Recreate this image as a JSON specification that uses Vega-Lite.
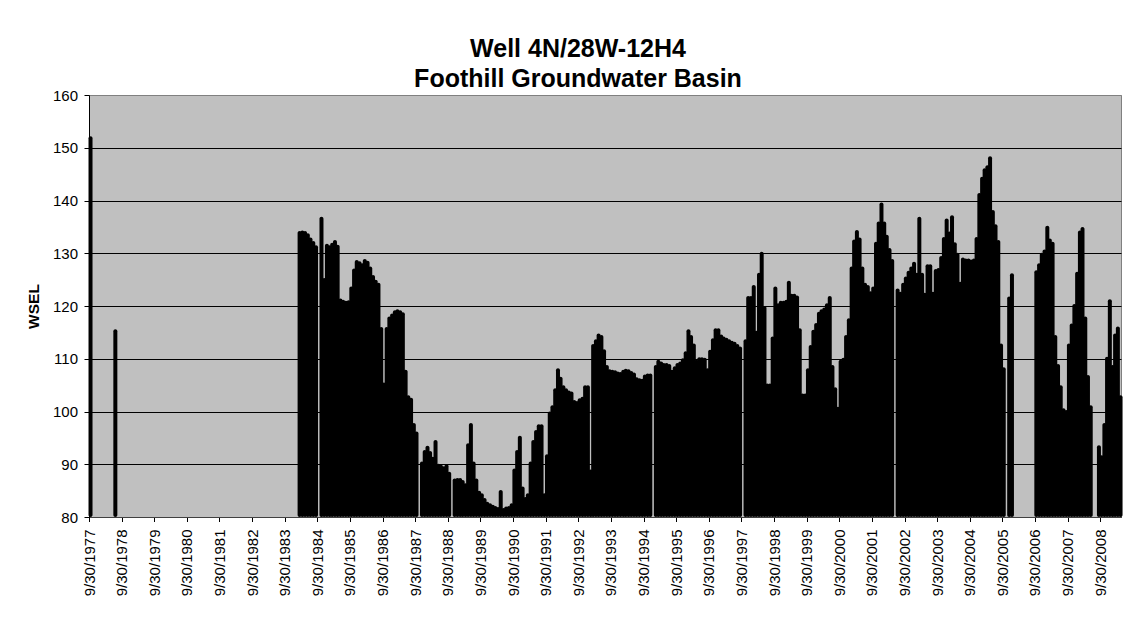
{
 "$schema": "https://vega.github.io/schema/vega-lite/v6.json",
 "width": 1032, "height": 422,
 "autosize": {"type": "none"},
 "padding": {"left": 89, "top": 95, "right": 14, "bottom": 101},
 "background": "white",
 "title": {"text": ["Well 4N/28W-12H4", "Foothill Groundwater Basin"], "fontSize": 25, "fontWeight": "bold", "font": "Liberation Sans", "color": "black", "lineHeight": 30, "anchor": "middle", "frame": "group", "dx": -27, "offset": -4},
 "data": {"values": [
  {"date":"1977-10-17","wsel":152.2},{"date":"1978-07-22","wsel":115.6},
  {"date":"1984-03-15","wsel":134.2},{"date":"1984-04-15","wsel":134.3},{"date":"1984-05-15","wsel":134.2},{"date":"1984-06-15","wsel":133.8},{"date":"1984-07-15","wsel":133.0},{"date":"1984-08-15","wsel":132.3},{"date":"1984-09-15","wsel":131.5},{"date":"1984-11-15","wsel":136.9},{"date":"1984-12-15","wsel":125.3},
  {"date":"1985-01-15","wsel":131.8},{"date":"1985-02-15","wsel":131.5},{"date":"1985-03-15","wsel":132.0},{"date":"1985-04-15","wsel":132.5},{"date":"1985-05-15","wsel":131.6},{"date":"1985-06-15","wsel":121.4},{"date":"1985-07-15","wsel":121.2},{"date":"1985-08-15","wsel":121.0},{"date":"1985-09-15","wsel":121.1},{"date":"1985-10-15","wsel":123.7},{"date":"1985-11-15","wsel":127.1},{"date":"1985-12-15","wsel":128.7},
  {"date":"1986-01-15","wsel":128.5},{"date":"1986-02-15","wsel":128.1},{"date":"1986-03-15","wsel":128.9},{"date":"1986-04-15","wsel":128.6},{"date":"1986-05-15","wsel":127.5},{"date":"1986-06-15","wsel":125.9},{"date":"1986-07-15","wsel":125.0},{"date":"1986-08-15","wsel":124.4},{"date":"1986-09-15","wsel":116.0},{"date":"1986-10-15","wsel":105.5},{"date":"1986-11-15","wsel":116.0},{"date":"1986-12-15","wsel":118.0},
  {"date":"1987-01-15","wsel":118.6},{"date":"1987-02-15","wsel":119.2},{"date":"1987-03-15","wsel":119.4},{"date":"1987-04-15","wsel":119.2},{"date":"1987-05-15","wsel":118.8},{"date":"1987-06-15","wsel":107.9},{"date":"1987-07-15","wsel":103.1},{"date":"1987-08-15","wsel":102.6},{"date":"1987-09-15","wsel":97.8},{"date":"1987-10-15","wsel":96.2},{"date":"1987-12-15","wsel":90.5},
  {"date":"1988-01-15","wsel":92.7},{"date":"1988-02-15","wsel":93.5},{"date":"1988-03-15","wsel":92.5},{"date":"1988-04-15","wsel":91.4},{"date":"1988-05-15","wsel":94.6},{"date":"1988-06-15","wsel":90.1},{"date":"1988-07-15","wsel":89.9},{"date":"1988-08-15","wsel":89.6},{"date":"1988-09-15","wsel":90.0},{"date":"1988-10-15","wsel":88.6},{"date":"1988-12-15","wsel":87.3},
  {"date":"1989-01-15","wsel":87.4},{"date":"1989-02-15","wsel":87.4},{"date":"1989-03-15","wsel":87.0},{"date":"1989-04-15","wsel":86.4},{"date":"1989-05-15","wsel":94.0},{"date":"1989-06-15","wsel":97.8},{"date":"1989-07-15","wsel":90.5},{"date":"1989-08-15","wsel":87.3},{"date":"1989-09-15","wsel":85.0},{"date":"1989-10-15","wsel":84.5},{"date":"1989-11-15","wsel":83.6},{"date":"1989-12-15","wsel":82.9},
  {"date":"1990-01-15","wsel":82.6},{"date":"1990-02-15","wsel":82.3},{"date":"1990-03-15","wsel":82.1},{"date":"1990-04-15","wsel":81.9},{"date":"1990-05-15","wsel":85.1},{"date":"1990-06-15","wsel":81.7},{"date":"1990-07-15","wsel":82.0},{"date":"1990-08-15","wsel":82.1},{"date":"1990-09-15","wsel":82.6},{"date":"1990-10-15","wsel":89.2},{"date":"1990-11-15","wsel":92.7},{"date":"1990-12-15","wsel":95.4},
  {"date":"1991-01-15","wsel":85.8},{"date":"1991-02-15","wsel":83.8},{"date":"1991-03-15","wsel":84.5},{"date":"1991-04-15","wsel":90.5},{"date":"1991-05-15","wsel":94.6},{"date":"1991-06-15","wsel":96.5},{"date":"1991-07-15","wsel":97.6},{"date":"1991-08-15","wsel":97.6},{"date":"1991-09-15","wsel":84.5},{"date":"1991-10-15","wsel":91.9},{"date":"1991-11-15","wsel":100.0},{"date":"1991-12-15","wsel":101.2},
  {"date":"1992-01-15","wsel":104.4},{"date":"1992-02-15","wsel":108.2},{"date":"1992-03-15","wsel":106.6},{"date":"1992-04-15","wsel":105.0},{"date":"1992-05-15","wsel":104.4},{"date":"1992-06-15","wsel":104.0},{"date":"1992-07-15","wsel":103.8},{"date":"1992-08-15","wsel":102.2},{"date":"1992-09-15","wsel":102.0},{"date":"1992-10-15","wsel":102.5},{"date":"1992-11-15","wsel":102.8},{"date":"1992-12-15","wsel":105.0},
  {"date":"1993-01-15","wsel":105.0},{"date":"1993-02-15","wsel":89.0},{"date":"1993-03-15","wsel":112.8},{"date":"1993-04-15","wsel":113.7},{"date":"1993-05-15","wsel":114.8},{"date":"1993-06-15","wsel":114.5},{"date":"1993-07-15","wsel":111.8},{"date":"1993-08-15","wsel":108.8},{"date":"1993-09-15","wsel":108.0},{"date":"1993-10-15","wsel":107.9},{"date":"1993-11-15","wsel":107.8},{"date":"1993-12-15","wsel":107.6},
  {"date":"1994-01-15","wsel":107.5},{"date":"1994-02-15","wsel":107.9},{"date":"1994-03-15","wsel":108.1},{"date":"1994-04-15","wsel":108.0},{"date":"1994-05-15","wsel":107.7},{"date":"1994-06-15","wsel":107.4},{"date":"1994-07-15","wsel":106.5},{"date":"1994-08-15","wsel":106.3},{"date":"1994-09-15","wsel":106.2},{"date":"1994-10-15","wsel":107.0},{"date":"1994-11-15","wsel":107.2},{"date":"1994-12-15","wsel":107.2},
  {"date":"1995-02-15","wsel":108.8},{"date":"1995-03-15","wsel":109.8},{"date":"1995-04-15","wsel":109.5},{"date":"1995-05-15","wsel":109.2},{"date":"1995-06-15","wsel":109.2},{"date":"1995-07-15","wsel":109.0},{"date":"1995-08-15","wsel":107.9},{"date":"1995-09-15","wsel":108.6},{"date":"1995-10-15","wsel":109.2},{"date":"1995-11-15","wsel":109.5},{"date":"1995-12-15","wsel":110.1},
  {"date":"1996-01-15","wsel":111.4},{"date":"1996-02-15","wsel":115.6},{"date":"1996-03-15","wsel":114.5},{"date":"1996-04-15","wsel":112.9},{"date":"1996-05-15","wsel":109.8},{"date":"1996-06-15","wsel":110.3},{"date":"1996-07-15","wsel":110.3},{"date":"1996-08-15","wsel":110.2},{"date":"1996-09-15","wsel":108.2},{"date":"1996-10-15","wsel":111.7},{"date":"1996-11-15","wsel":113.9},{"date":"1996-12-15","wsel":115.8},
  {"date":"1997-01-15","wsel":115.8},{"date":"1997-02-15","wsel":114.6},{"date":"1997-03-15","wsel":114.2},{"date":"1997-04-15","wsel":114.0},{"date":"1997-05-15","wsel":113.7},{"date":"1997-06-15","wsel":113.4},{"date":"1997-07-15","wsel":113.2},{"date":"1997-08-15","wsel":112.8},{"date":"1997-09-15","wsel":112.3},{"date":"1997-11-15","wsel":113.7},{"date":"1997-12-15","wsel":121.9},
  {"date":"1998-01-15","wsel":121.9},{"date":"1998-02-15","wsel":124.0},{"date":"1998-03-15","wsel":115.3},{"date":"1998-04-15","wsel":126.3},{"date":"1998-05-15","wsel":130.3},{"date":"1998-06-15","wsel":120.0},{"date":"1998-07-15","wsel":105.3},{"date":"1998-08-15","wsel":105.3},{"date":"1998-09-15","wsel":114.2},{"date":"1998-10-15","wsel":123.7},{"date":"1998-11-15","wsel":120.5},{"date":"1998-12-15","wsel":121.0},
  {"date":"1999-01-15","wsel":121.0},{"date":"1999-02-15","wsel":121.2},{"date":"1999-03-15","wsel":124.8},{"date":"1999-04-15","wsel":122.3},{"date":"1999-05-15","wsel":122.3},{"date":"1999-06-15","wsel":122.0},{"date":"1999-07-15","wsel":115.8},{"date":"1999-08-15","wsel":103.4},{"date":"1999-09-15","wsel":103.4},{"date":"1999-10-15","wsel":108.2},{"date":"1999-11-15","wsel":112.6},{"date":"1999-12-15","wsel":115.5},
  {"date":"2000-01-15","wsel":116.8},{"date":"2000-02-15","wsel":118.9},{"date":"2000-03-15","wsel":119.4},{"date":"2000-04-15","wsel":119.7},{"date":"2000-05-15","wsel":120.5},{"date":"2000-06-15","wsel":121.9},{"date":"2000-07-15","wsel":108.8},{"date":"2000-08-15","wsel":104.6},{"date":"2000-09-15","wsel":100.9},{"date":"2000-10-15","wsel":109.8},{"date":"2000-11-15","wsel":110.2},{"date":"2000-12-15","wsel":114.5},
  {"date":"2001-01-15","wsel":117.7},{"date":"2001-02-15","wsel":127.5},{"date":"2001-03-15","wsel":132.6},{"date":"2001-04-15","wsel":134.4},{"date":"2001-05-15","wsel":133.0},{"date":"2001-06-15","wsel":127.5},{"date":"2001-07-15","wsel":124.4},{"date":"2001-08-15","wsel":124.0},{"date":"2001-09-15","wsel":122.8},{"date":"2001-10-15","wsel":123.7},{"date":"2001-11-15","wsel":132.2},{"date":"2001-12-15","wsel":136.0},
  {"date":"2002-01-15","wsel":139.6},{"date":"2002-02-15","wsel":136.0},{"date":"2002-03-15","wsel":133.5},{"date":"2002-04-15","wsel":131.0},{"date":"2002-05-15","wsel":128.9},{"date":"2002-07-15","wsel":123.3},{"date":"2002-08-15","wsel":122.7},{"date":"2002-09-15","wsel":124.4},{"date":"2002-10-15","wsel":125.6},{"date":"2002-11-15","wsel":126.7},{"date":"2002-12-15","wsel":127.5},
  {"date":"2003-01-15","wsel":128.4},{"date":"2003-02-15","wsel":126.3},{"date":"2003-03-15","wsel":136.9},{"date":"2003-04-15","wsel":126.3},{"date":"2003-05-15","wsel":122.5},{"date":"2003-06-15","wsel":127.9},{"date":"2003-07-15","wsel":127.9},{"date":"2003-08-15","wsel":122.7},{"date":"2003-09-15","wsel":127.0},{"date":"2003-10-15","wsel":127.2},{"date":"2003-11-15","wsel":129.5},{"date":"2003-12-15","wsel":133.1},
  {"date":"2004-01-15","wsel":136.6},{"date":"2004-02-15","wsel":134.1},{"date":"2004-03-15","wsel":137.2},{"date":"2004-04-15","wsel":132.1},{"date":"2004-05-15","wsel":130.1},{"date":"2004-06-15","wsel":124.6},{"date":"2004-07-15","wsel":129.2},{"date":"2004-08-15","wsel":129.0},{"date":"2004-09-15","wsel":129.0},{"date":"2004-10-15","wsel":128.8},{"date":"2004-11-15","wsel":129.0},{"date":"2004-12-15","wsel":133.1},
  {"date":"2005-01-15","wsel":141.4},{"date":"2005-02-15","wsel":144.5},{"date":"2005-03-15","wsel":146.1},{"date":"2005-04-15","wsel":146.7},{"date":"2005-05-15","wsel":148.4},{"date":"2005-06-15","wsel":138.2},{"date":"2005-07-15","wsel":135.5},{"date":"2005-08-15","wsel":132.5},{"date":"2005-09-15","wsel":112.9},{"date":"2005-10-15","wsel":108.4},{"date":"2005-12-15","wsel":121.8},
  {"date":"2006-01-15","wsel":126.2},{"date":"2006-10-15","wsel":126.8},{"date":"2006-11-15","wsel":128.1},{"date":"2006-12-15","wsel":130.1},
  {"date":"2007-01-15","wsel":130.7},{"date":"2007-02-15","wsel":135.2},{"date":"2007-03-15","wsel":132.8},{"date":"2007-04-15","wsel":132.2},{"date":"2007-05-15","wsel":114.5},{"date":"2007-06-15","wsel":109.0},{"date":"2007-07-15","wsel":105.0},{"date":"2007-08-15","wsel":100.6},{"date":"2007-09-15","wsel":100.3},{"date":"2007-10-15","wsel":112.9},{"date":"2007-11-15","wsel":116.7},{"date":"2007-12-15","wsel":120.4},
  {"date":"2008-01-15","wsel":126.5},{"date":"2008-02-15","wsel":134.3},{"date":"2008-03-15","wsel":135.0},{"date":"2008-04-15","wsel":118.0},{"date":"2008-05-15","wsel":106.9},{"date":"2008-06-15","wsel":101.2},{"date":"2008-09-15","wsel":93.6},{"date":"2008-10-15","wsel":91.7},{"date":"2008-11-15","wsel":97.8},{"date":"2008-12-15","wsel":110.4},
  {"date":"2009-01-15","wsel":121.3},{"date":"2009-02-15","wsel":108.8},{"date":"2009-03-15","wsel":114.8},{"date":"2009-04-15","wsel":116.1},{"date":"2009-05-15","wsel":103.1}
 ]},
 "mark": {"type": "bar", "width": 4, "color": "black", "cornerRadiusEnd": 2},
 "encoding": {
  "x": {"field": "date", "type": "temporal",
   "scale": {"type": "utc", "padding": 0, "domain": [{"year":1977,"month":9,"date":30,"utc":true},{"year":2009,"month":5,"date":20,"utc":true}]},
   "axis": {"values": [
     {"year":1977,"month":9,"date":30,"utc":true},{"year":1978,"month":9,"date":30,"utc":true},{"year":1979,"month":9,"date":30,"utc":true},{"year":1980,"month":9,"date":30,"utc":true},
     {"year":1981,"month":9,"date":30,"utc":true},{"year":1982,"month":9,"date":30,"utc":true},{"year":1983,"month":9,"date":30,"utc":true},{"year":1984,"month":9,"date":30,"utc":true},
     {"year":1985,"month":9,"date":30,"utc":true},{"year":1986,"month":9,"date":30,"utc":true},{"year":1987,"month":9,"date":30,"utc":true},{"year":1988,"month":9,"date":30,"utc":true},
     {"year":1989,"month":9,"date":30,"utc":true},{"year":1990,"month":9,"date":30,"utc":true},{"year":1991,"month":9,"date":30,"utc":true},{"year":1992,"month":9,"date":30,"utc":true},
     {"year":1993,"month":9,"date":30,"utc":true},{"year":1994,"month":9,"date":30,"utc":true},{"year":1995,"month":9,"date":30,"utc":true},{"year":1996,"month":9,"date":30,"utc":true},
     {"year":1997,"month":9,"date":30,"utc":true},{"year":1998,"month":9,"date":30,"utc":true},{"year":1999,"month":9,"date":30,"utc":true},{"year":2000,"month":9,"date":30,"utc":true},
     {"year":2001,"month":9,"date":30,"utc":true},{"year":2002,"month":9,"date":30,"utc":true},{"year":2003,"month":9,"date":30,"utc":true},{"year":2004,"month":9,"date":30,"utc":true},
     {"year":2005,"month":9,"date":30,"utc":true},{"year":2006,"month":9,"date":30,"utc":true},{"year":2007,"month":9,"date":30,"utc":true},{"year":2008,"month":9,"date":30,"utc":true}],
    "labelExpr": "utcFormat(datum.value, '%-m/%-d/%Y')", "labelAngle": -90, "labelFontSize": 15, "labelColor": "black", "labelPadding": 7.5,
    "labelOverlap": false, "labelFlush": false, "labelBound": false,
    "tickSize": 4.5, "tickColor": "black", "domainColor": "#404040", "grid": false, "title": null}
  },
  "y": {"field": "wsel", "type": "quantitative",
   "scale": {"domain": [80, 160], "nice": false, "zero": false},
   "axis": {"values": [80, 90, 100, 110, 120, 130, 140, 150, 160], "title": "WSEL", "titleFontSize": 15.5, "titleFontWeight": "bold", "titleColor": "black", "titlePadding": 11,
    "labelFontSize": 15, "labelColor": "black", "labelPadding": 6.5, "labelFlush": false, "tickSize": 5, "tickColor": "black", "domainColor": "black",
    "grid": true, "gridColor": {"condition": {"test": "datum.value == 160", "value": "#808080"}, "value": "#000000"}}
  },
  "y2": {"datum": 80}
 },
 "config": {
  "font": "Liberation Sans",
  "view": {"fill": "#C0C0C0", "stroke": "#808080"},
  "axis": {"labelFont": "Liberation Sans", "titleFont": "Liberation Sans"}
 }
}
